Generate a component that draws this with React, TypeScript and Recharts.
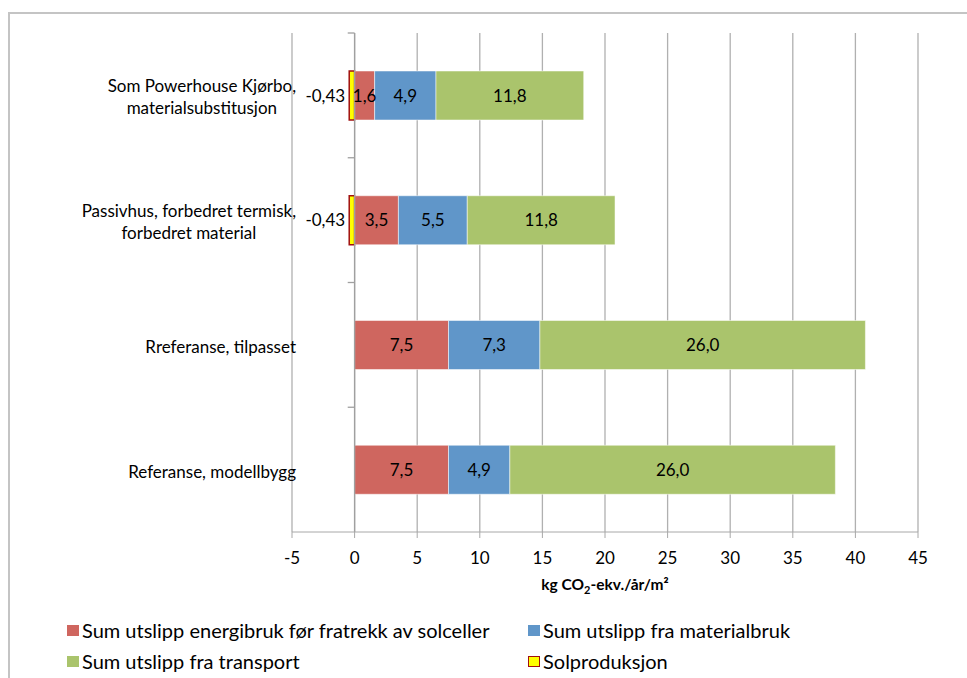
import React from "react";
import {
    BarChart,
    Bar,
    XAxis,
    YAxis,
    CartesianGrid,
    ReferenceLine,
    LabelList
} from "recharts";

const categories = [
    "Som Powerhouse Kjørbo,\nmaterialsubstitusjon",
    "Passivhus, forbedret termisk,\nforbedret material",
    "Rreferanse, tilpasset",
    "Referanse, modellbygg",
];

const solproduksjon = [-0.43, -0.43, null, null];
const energibruk = [1.6, 3.5, 7.5, 7.5];
const materialbruk = [4.9, 5.5, 7.3, 4.9];
const transport = [11.8, 11.8, 26.0, 26.0];

const xTicks = [-5, 0, 5, 10, 15, 20, 25, 30, 35, 40, 45];

const series = [
    { key: "energi", name: "Sum utslipp energibruk før fratrekk av solceller", color: "#cf665f" },
    { key: "material", name: "Sum utslipp fra materialbruk", color: "#6096c9" },
    { key: "transport", name: "Sum utslipp fra transport", color: "#aac46c" },
    { key: "sol", name: "Solproduksjon", color: "#ffff00" },
];

const FONT = "Lato, 'Open Sans', sans-serif";
const AXIS = "#a0a0a0";

const data = categories.map((name, i) => ({
    name,
    sol: solproduksjon[i],
    energi: energibruk[i],
    material: materialbruk[i],
    transport: transport[i],
}));

let canvas: HTMLCanvasElement | null = null;
const textWidth = (text: string, font: string) => {
    if (!canvas) canvas = document.createElement("canvas");
    const ctx = canvas.getContext("2d");
    if (!ctx) return text.length * 8;
    ctx.font = font;
    return ctx.measureText(text).width;
};

const fmt = (digits: number) => (v: any) => {
    if (v === null || v === undefined || v === 0) return "";
    return Number(v).toFixed(digits).replace(".", ",");
};

function CategoryTick(props: any) {
    const { x, y, payload } = props;
    const lines = String(payload.value).split("\n");
    const fontSize = 17;
    const widths = lines.map(l => textWidth(l, `${fontSize}px Lato`));
    const blockW = Math.max(...widths);
    const right = x + 6;
    const center = right - blockW / 2;
    const lineH = 22;
    const startY = y - ((lines.length - 1) * lineH) / 2 + 2;
    return (
        <text fontFamily={FONT} fontSize={fontSize} fill="#000" textAnchor="middle">
            {lines.map((l, i) => (
                <tspan key={i} x={center} y={startY + i * lineH} dy="0.35em">{l}</tspan>
            ))}
        </text>
    );
}

function AxisTitle(props: any) {
    const { viewBox } = props;
    const cx = viewBox.x + viewBox.width / 2;
    const y = viewBox.y + viewBox.height - 2;
    return (
        <text x={cx} y={y} textAnchor="middle" fontFamily={FONT} fontSize={15.5} fontWeight="bold" fill="#000">
            kg CO<tspan fontSize={11} dy={4}>2</tspan><tspan dy={-4}>-ekv./år/m²</tspan>
        </text>
    );
}

export default function App() {
    const legendPos = [
        { left: 67, top: 617 },
        { left: 528, top: 617 },
        { left: 67, top: 648 },
        { left: 528, top: 648 },
    ];
    return (
        <div style={{ position: "absolute", left: 0, top: 0, width: 967, height: 678, overflow: "hidden", background: "#fff" }}>
            <div style={{ position: "absolute", left: 8, top: 12, width: 990, height: 700, border: "2px solid #c4c4c4" }} />
            <div style={{ position: "absolute", left: 0, top: 0 }}>
                <BarChart
                    width={967}
                    height={678}
                    data={data}
                    layout="vertical"
                    stackOffset="sign"
                    barSize={49}
                    margin={{ top: 33, right: 49, bottom: 86, left: 0 }}
                >
                    <CartesianGrid horizontal={false} stroke="#b0b0b0" strokeWidth={1.3} />
                    <XAxis
                        type="number"
                        domain={[-5, 45]}
                        ticks={xTicks}
                        interval={0}
                        height={60}
                        stroke="#a8a8a8"
                        tickSize={6}
                        tickMargin={14}
                        tick={{ fill: "#000", fontSize: 17, fontFamily: FONT }}
                        label={<AxisTitle />}
                    />
                    <YAxis
                        type="category"
                        dataKey="name"
                        width={292}
                        axisLine={false}
                        tickLine={false}
                        tickSize={0}
                        tick={<CategoryTick />}
                        interval={0}
                    />
                    <ReferenceLine x={0} stroke={AXIS} strokeWidth={1.3} />
                    {categories.map(c => (
                        <ReferenceLine
                            key={c}
                            position="start"
                            segment={[{ x: -0.55, y: c }, { x: 0, y: c }]}
                            stroke={AXIS}
                            strokeWidth={1.3}
                            ifOverflow="visible"
                        />
                    ))}
                    <Bar dataKey="sol" stackId="a" fill="#ffff00" stroke="#a01010" strokeWidth={1.5} isAnimationActive={false}>
                        <LabelList dataKey="sol" position="right" offset={4} formatter={fmt(2)} fill="#000" fontSize={17} fontFamily={FONT} />
                    </Bar>
                    <Bar dataKey="energi" stackId="a" fill="#cf665f" stroke="rgba(255,255,255,0.5)" strokeWidth={1} isAnimationActive={false}>
                        <LabelList dataKey="energi" position="center" formatter={fmt(1)} fill="#000" fontSize={17} fontFamily={FONT} />
                    </Bar>
                    <Bar dataKey="material" stackId="a" fill="#6096c9" stroke="rgba(255,255,255,0.5)" strokeWidth={1} isAnimationActive={false}>
                        <LabelList dataKey="material" position="center" formatter={fmt(1)} fill="#000" fontSize={17} fontFamily={FONT} />
                    </Bar>
                    <Bar dataKey="transport" stackId="a" fill="#aac46c" stroke="rgba(255,255,255,0.5)" strokeWidth={1} isAnimationActive={false}>
                        <LabelList dataKey="transport" position="center" formatter={fmt(1)} fill="#000" fontSize={17} fontFamily={FONT} />
                    </Bar>
                </BarChart>
            </div>
            {series.map((s, i) => (
                <div
                    key={s.key}
                    style={{
                        position: "absolute",
                        left: legendPos[i].left,
                        top: legendPos[i].top,
                        display: "flex",
                        alignItems: "center",
                        fontFamily: FONT,
                        fontSize: 20,
                        lineHeight: "26px",
                        color: "#000",
                        whiteSpace: "nowrap",
                    }}
                >
                    <span
                        style={{
                            display: "inline-block",
                            width: s.key === "sol" ? 10 : 12,
                            height: s.key === "sol" ? 9 : 11,
                            background: s.color,
                            border: s.key === "sol" ? "1.5px solid #a01010" : "none",
                            marginRight: 3,
                        }}
                    />
                    <span>{s.name}</span>
                </div>
            ))}
        </div>
    );
}
